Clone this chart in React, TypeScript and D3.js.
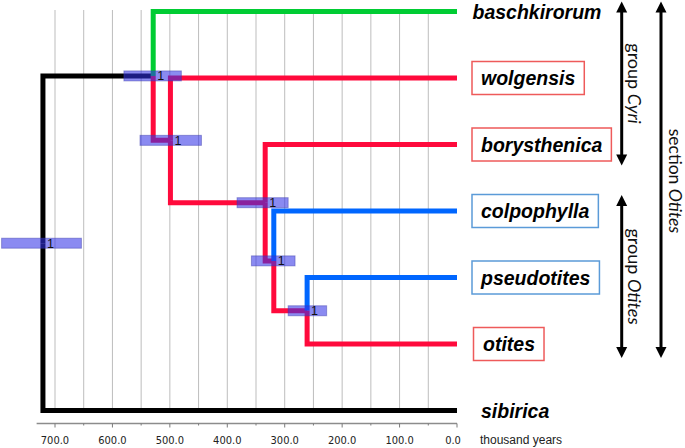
import React, { useEffect, useRef } from "react";
import * as d3 from "d3";

// ---------- data ----------
const taxa = ["baschkirorum", "wolgensis", "borysthenica", "colpophylla", "pseudotites", "otites", "sibirica"];
const taxonBox = ["none", "red", "red", "blue", "blue", "red", "none"];

const nodeIds = ["root", "n1", "n2", "n3", "n4", "n5"];
const nodeAges = [721, 529, 499, 334, 319, 261];
const hpdLow = [654, 480, 445, 294, 282, 227];
const hpdHigh = [793, 580, 552, 383, 358, 294];
const nodeSupport = ["1", "1", "1", "1", "1", "1"];
const nodeChildren = [
  ["n1", "sibirica"],
  ["baschkirorum", "n2"],
  ["wolgensis", "n3"],
  ["borysthenica", "n4"],
  ["colpophylla", "n5"],
  ["pseudotites", "otites"],
];
// lineage colour of each child branch
const branchNames = ["n1", "sibirica", "baschkirorum", "n2", "wolgensis", "n3", "borysthenica", "n4", "colpophylla", "n5", "pseudotites", "otites"];
const branchLineage = ["root", "root", "green", "red", "red", "red", "red", "red", "blue", "red", "blue", "red"];

const tickValues = [700, 600, 500, 400, 300, 200, 100, 0];
const minorTickValues = [650, 550, 450, 350, 250, 150, 50];
const gridValues = [700, 650, 600, 550, 500, 450, 400, 350, 300, 250, 200, 150, 100, 50];
const axisTitle = "thousand years";

const groupLabels = ["group ", "group ", "section "];
const groupItalic = ["Cyri", "Otites", "Otites"];
const groupFrom = ["baschkirorum", "colpophylla", "baschkirorum"];
const groupTo = ["borysthenica", "otites", "otites"];
const groupColumn = [0, 0, 1];

const lineageColor: Record<string, string> = {
  root: "#000000",
  green: "#00cc33",
  red: "#ff0a3c",
  blue: "#0066ff",
};
const boxColor: Record<string, string> = { red: "#ee5a5a", blue: "#5b9bd8" };

export default function App() {
  const ref = useRef<SVGSVGElement | null>(null);

  useEffect(() => {
    const svg = d3.select(ref.current);
    svg.selectAll("*").remove();

    const x = d3.scaleLinear().domain([0, 700]).range([457, 55]);
    const y = d3.scalePoint<string>().domain(taxa).range([11.5, 410.5]);

    // node positions
    const age: Record<string, number> = {};
    const ypos: Record<string, number> = {};
    taxa.forEach((t) => {
      age[t] = 0;
      ypos[t] = y(t) as number;
    });
    nodeIds.forEach((id, i) => (age[id] = nodeAges[i]));
    for (let i = nodeIds.length - 1; i >= 0; i--) {
      const [a, b] = nodeChildren[i];
      ypos[nodeIds[i]] = (ypos[a] + ypos[b]) / 2;
    }
    const colorOf = (name: string) => lineageColor[branchLineage[branchNames.indexOf(name)]];

    // grid
    svg
      .append("g")
      .selectAll("line")
      .data(gridValues)
      .join("line")
      .attr("x1", (d) => x(d))
      .attr("x2", (d) => x(d))
      .attr("y1", 10)
      .attr("y2", 411)
      .attr("stroke", "#bdbdbd")
      .attr("stroke-width", 1);

    // branches
    const branches: { p: string; c: string }[] = [];
    nodeIds.forEach((id, i) => nodeChildren[i].forEach((c) => branches.push({ p: id, c })));
    svg
      .append("g")
      .selectAll("path")
      .data(branches)
      .join("path")
      .attr("d", (b) => `M${x(age[b.p])},${ypos[b.p]}V${ypos[b.c]}H${x(age[b.c])}`)
      .attr("fill", "none")
      .attr("stroke", (b) => colorOf(b.c))
      .attr("stroke-width", 5)
      .attr("stroke-linejoin", "miter")
      .attr("stroke-linecap", "butt");

    // HPD bars
    svg
      .append("g")
      .selectAll("rect")
      .data(nodeIds)
      .join("rect")
      .attr("x", (_, i) => x(hpdHigh[i]))
      .attr("width", (_, i) => x(hpdLow[i]) - x(hpdHigh[i]))
      .attr("y", (d) => ypos[d] - 5)
      .attr("height", 10)
      .attr("fill", "rgb(50,50,230)")
      .attr("fill-opacity", 0.57)
      .attr("stroke", "rgb(60,60,170)")
      .attr("stroke-opacity", 0.45)
      .attr("stroke-width", 1);

    // support labels
    svg
      .append("g")
      .selectAll("text")
      .data(nodeIds)
      .join("text")
      .attr("x", (d) => x(age[d]) + 4)
      .attr("y", (d) => ypos[d] + 4.5)
      .attr("font-family", "'Liberation Sans', Arial, sans-serif")
      .attr("font-size", 12.5)
      .attr("fill", "#111")
      .text((_, i) => nodeSupport[i]);

    // taxon labels
    const lab = svg.append("g");
    taxa.forEach((t, i) => {
      const tx = i === 0 ? 472.5 : t === "otites" ? 483 : 481;
      const txt = lab
        .append("text")
        .attr("x", tx)
        .attr("y", ypos[t])
        .attr("dy", "0.36em")
        .attr("font-family", "'Liberation Sans', Arial, sans-serif")
        .attr("font-size", 19.5)
        .attr("font-weight", "bold")
        .attr("font-style", "italic")
        .attr("fill", "#000")
        .text(t);
      if (taxonBox[i] !== "none") {
        const len = (txt.node() as SVGTextElement).getComputedTextLength();
        const bx = t === "otites" ? 473.5 : 472;
        lab
          .insert("rect", "text")
          .attr("x", bx)
          .attr("y", ypos[t] - 16.5)
          .attr("width", tx + len + 9 - bx)
          .attr("height", 33)
          .attr("fill", "none")
          .attr("stroke", boxColor[taxonBox[i]])
          .attr("stroke-width", 1.5);
      }
    });

    // axis
    const ax = svg.append("g");
    const axisY = 423.5;
    ax.append("line")
      .attr("x1", x(732))
      .attr("x2", x(0))
      .attr("y1", axisY)
      .attr("y2", axisY)
      .attr("stroke", "#8c8c8c")
      .attr("stroke-width", 1.3);
    ax.selectAll("line.maj")
      .data(tickValues)
      .join("line")
      .attr("class", "maj")
      .attr("x1", (d) => x(d))
      .attr("x2", (d) => x(d))
      .attr("y1", axisY)
      .attr("y2", axisY + 4)
      .attr("stroke", "#7a7a7a");
    ax.selectAll("line.min")
      .data(minorTickValues)
      .join("line")
      .attr("class", "min")
      .attr("x1", (d) => x(d))
      .attr("x2", (d) => x(d))
      .attr("y1", axisY)
      .attr("y2", axisY + 2)
      .attr("stroke", "#7a7a7a");
    ax.selectAll("text.tl")
      .data(tickValues)
      .join("text")
      .attr("class", "tl")
      .attr("x", (d) => x(d) - (d === 0 ? 4 : 0))
      .attr("y", 444)
      .attr("text-anchor", "middle")
      .attr("font-family", "'Liberation Sans Narrow', 'Arial Narrow', 'DejaVu Sans Condensed', sans-serif")
      .attr("font-stretch", "condensed")
      .attr("font-size", 11)
      .attr("fill", "#222")
      .text((d) => d3.format(".1f")(d));
    ax.append("text")
      .attr("x", 480)
      .attr("y", 444)
      .attr("font-family", "'Liberation Sans', Arial, sans-serif")
      .attr("font-size", 12)
      .attr("fill", "#222")
      .text(axisTitle);

    // group arrows
    const ann = svg.append("g");
    const colX = [621.7, 661];
    const textX = [634.5, 675.5];
    groupLabels.forEach((g, i) => {
      const cx = colX[groupColumn[i]];
      const top = ypos[groupFrom[i]] - (groupFrom[i] === "baschkirorum" ? 10 : 16);
      const bottom = ypos[groupTo[i]] + (groupTo[i] === "otites" ? 14 : 21);
      ann.append("line")
        .attr("x1", cx)
        .attr("x2", cx)
        .attr("y1", top + 8)
        .attr("y2", bottom - 8)
        .attr("stroke", "#000")
        .attr("stroke-width", 3);
      ann.append("path")
        .attr("d", `M${cx},${top}L${cx - 5.5},${top + 11}L${cx + 5.5},${top + 11}Z`)
        .attr("fill", "#000");
      ann.append("path")
        .attr("d", `M${cx},${bottom}L${cx - 5.5},${bottom - 11}L${cx + 5.5},${bottom - 11}Z`)
        .attr("fill", "#000");
      const cy = groupColumn[i] === 0 ? (top + bottom) / 2 : 181;
      const t = ann
        .append("text")
        .attr("transform", `translate(${textX[groupColumn[i]]},${cy}) rotate(90)`)
        .attr("text-anchor", "middle")
        .attr("dy", "0.35em")
        .attr("font-family", "Lato, 'Liberation Sans', sans-serif")
        .attr("font-size", groupColumn[i] === 0 ? 18 : 17.5)
        .attr("fill", "#111");
      t.append("tspan").text(g);
      t.append("tspan").attr("font-style", "italic").text(groupItalic[i]);
    });
  }, []);

  return (
    <svg
      ref={ref}
      width={685}
      height={448}
      style={{ position: "absolute", left: 0, top: 0, background: "#fff" }}
    />
  );
}
